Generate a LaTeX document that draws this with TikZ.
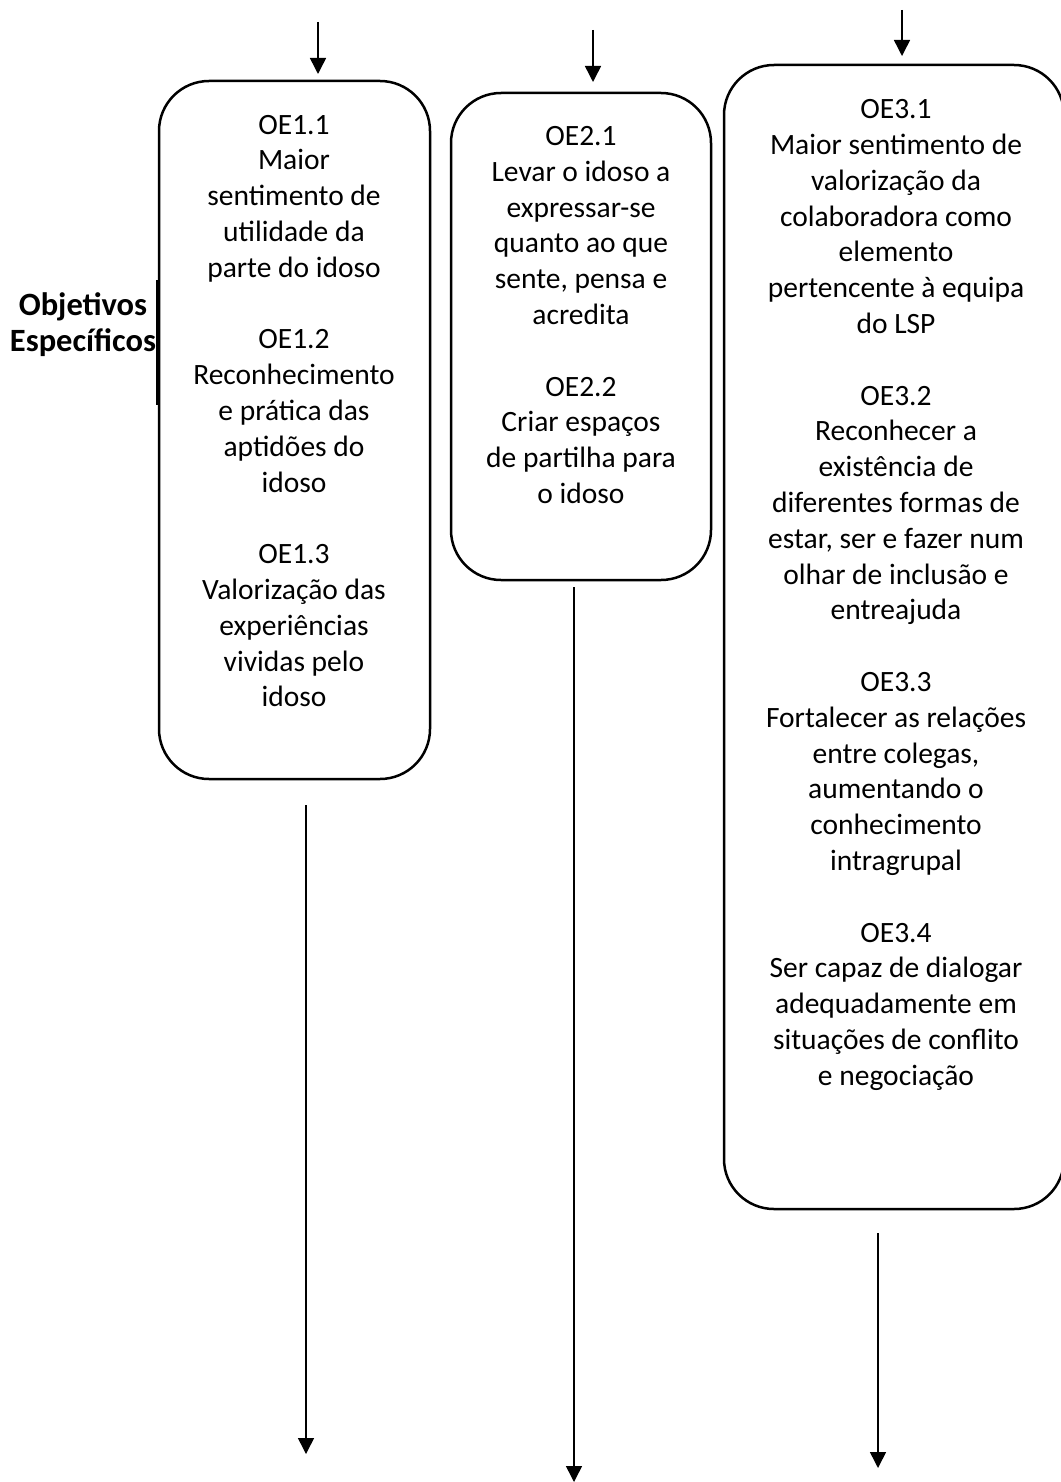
\documentclass[tikz,border=0pt]{standalone}
\usepackage{fontspec}
\setmainfont{Carlito}
\usetikzlibrary{arrows.meta}
\begin{document}
\begin{tikzpicture}[x=1pt,y=-1pt,
  box/.style={draw,line width=2.5pt,rounded corners=50pt,inner sep=0pt},
  txt/.style={align=center,font=\fontsize{29.5}{35.8}\selectfont,inner sep=0pt},
  arr/.style={line width=1.5pt,-{Triangle[width=16pt,length=16pt]}}]
\useasboundingbox (0,0) rectangle (1060,1482);
% boxes
\draw[box] (159,81) rectangle (430,779);
\draw[box] (451,93) rectangle (711,580);
\draw[box] (724,65) rectangle (1064,1209);
% texts
\node[txt] (t1) at (294,411) {OE1.1\\Maior\\sentimento de\\utilidade da\\parte do idoso\\[35.8pt]OE1.2\\Reconhecimento\\e prática das\\aptidões do\\idoso\\[35.8pt]OE1.3\\Valorização das\\experiências\\vividas pelo\\idoso};
\node[txt] (t2) at (581,315) {OE2.1\\Levar o idoso a\\expressar-se\\quanto ao que\\sente, pensa e\\acredita\\[35.8pt]OE2.2\\Criar espaços\\de partilha para\\o idoso};
\node[txt] (t3) at (896,595) {OE3.1\\Maior sentimento de\\valorização da\\colaboradora como\\elemento\\pertencente à equipa\\do LSP\\[35.8pt]OE3.2\\Reconhecer a\\existência de\\diferentes formas de\\estar, ser e fazer num\\olhar de inclusão e\\entreajuda\\[35.8pt]OE3.3\\Fortalecer as relações\\entre colegas,\\aumentando o\\conhecimento\\intragrupal\\[35.8pt]OE3.4\\Ser capaz de dialogar\\adequadamente em\\situações de conflito\\e negociação};
% label
\node[txt,font=\fontsize{32.5}{36}\selectfont\bfseries] (lab) at (83,325) {Objetivos\\Específicos};
\coordinate (la) at (157,280);
\coordinate (lb) at (157,405);
\draw[line width=2.5pt] (la) -- (lb);
% top arrows
\coordinate (a1s) at (318,22); \coordinate (a1e) at (318,74);
\coordinate (a2s) at (593,30); \coordinate (a2e) at (593,82);
\coordinate (a3s) at (902,10); \coordinate (a3e) at (902,56);
\draw[arr] (a1s) -- (a1e);
\draw[arr] (a2s) -- (a2e);
\draw[arr] (a3s) -- (a3e);
% bottom arrows
\coordinate (c1s) at (306,805); \coordinate (c1e) at (306,1454);
\coordinate (c2s) at (574,587); \coordinate (c2e) at (574,1482);
\coordinate (c3s) at (878,1233); \coordinate (c3e) at (878,1468);
\draw[arr] (c1s) -- (c1e);
\draw[arr] (c2s) -- (c2e);
\draw[arr] (c3s) -- (c3e);
\end{tikzpicture}
\end{document}
